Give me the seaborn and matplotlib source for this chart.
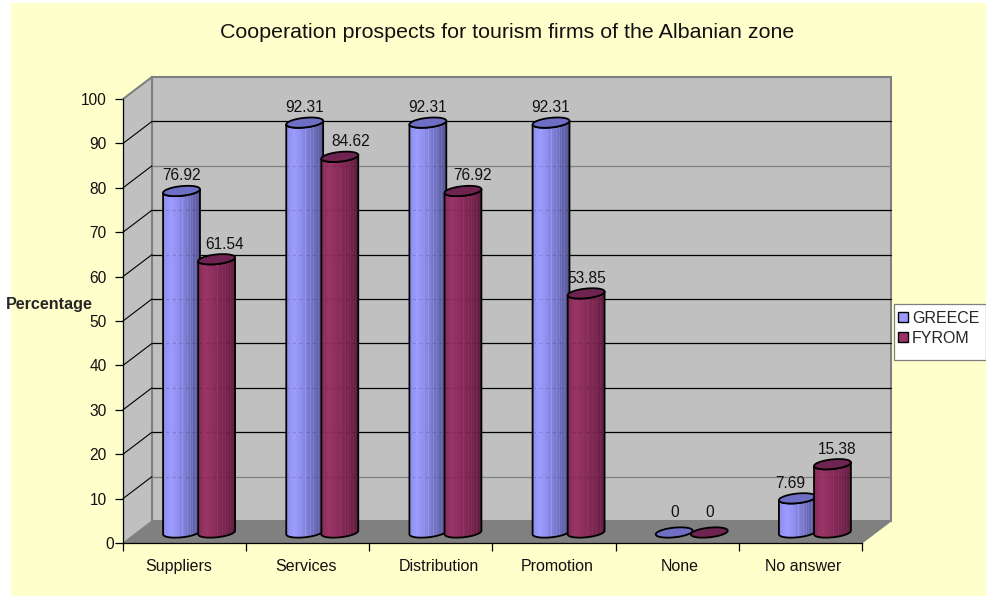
"""
Cooperation prospects chart, cylinder bars drawn on top of seaborn barplot
"""

import matplotlib
matplotlib.use('Agg')

import numpy as np
import pandas as pd
import matplotlib.pyplot as plt
import matplotlib.colors as mcolors
from matplotlib.patches import Patch, PathPatch, Polygon, Rectangle
from matplotlib.path import Path
from matplotlib.transforms import IdentityTransform, ScaledTranslation, offset_copy
import seaborn as sns

categories = ['Suppliers', 'Services', 'Distribution', 'Promotion', 'None', 'No answer']
greece = [76.92, 92.31, 92.31, 92.31, 0, 7.69]
fyrom = [61.54, 84.62, 76.92, 53.85, 0, 15.38]
series_names = ['GREECE', 'FYROM']
y_ticks = [0, 10, 20, 30, 40, 50, 60, 70, 80, 90, 100]

W, H = 986, 596
BG = '#FFFFCC'
WALL = '#C0C0C0'
FLOOR = '#808080'
COLORS = {'GREECE': '#9999FF', 'FYROM': '#993366'}
TOPS = {'GREECE': '#6E6EC4', 'FYROM': '#6F2350'}
STOPS = {'GREECE': ['#8C8CEA', '#9D9DFF', '#8F8FEC', '#7C7CCF', '#6666AC', '#585894'],
         'FYROM': ['#862C59', '#9B3568', '#8E2F5F', '#7F2A55', '#70254B', '#5F1F40']}
# the labels in the picture do not sit exactly under the category centres
label_shift_px = [-6, -2, 8, 3, 2, 3]
# value labels are pushed sideways to clear the neighbouring bar
value_shift_px = {'GREECE': [0, 0, 0, 0, 0, -7], 'FYROM': [8, 11, 10, 1, 0, 5]}


def px_axes(fig, left, top, right, bottom):
    return fig.add_axes([left / W, 1 - bottom / H, (right - left) / W, (bottom - top) / H])


def ellipse_xy(cx, cy, a, b, t, tilt=np.radians(6)):
    x = cx + a * np.cos(t) * np.cos(tilt) - b * np.sin(t) * np.sin(tilt)
    y = cy + a * np.cos(t) * np.sin(tilt) + b * np.sin(t) * np.cos(tilt)
    return np.column_stack([x, y])


sns.set_style('white')
plt.rcParams['font.family'] = ['Liberation Sans', 'DejaVu Sans']

df = pd.DataFrame({
    'category': categories * 2,
    'series': [series_names[0]] * 6 + [series_names[1]] * 6,
    'value': greece + fyrom,
})

fig = plt.figure(figsize=(W / 100, H / 100), dpi=100, facecolor='white')
fig.add_artist(Rectangle((11 / W, 0), (W - 11) / W, (H - 3) / H, transform=fig.transFigure,
                         facecolor=BG, edgecolor='none', zorder=-1))
ax = px_axes(fig, 123, 99, 862, 543)

sns.barplot(data=df, x='category', y='value', hue='series', palette=COLORS,
            width=0.57, legend=False, ax=ax, zorder=5)
ax.set_xlim(-0.5, 5.5)
ax.set_ylim(0, 100)
ax.set_autoscale_on(False)
ax.patch.set_visible(False)

# wall, side and floor of the box
back = offset_copy(ax.transData, fig, x=29, y=22, units='dots')
mid = offset_copy(ax.transData, fig, x=14.5, y=10.5, units='dots')
ident = IdentityTransform()


def front_pt(x, y):
    return ax.transData.transform((x, y))


def back_pt(x, y):
    return back.transform((x, y))


ax.add_patch(Rectangle((-0.5, 0), 6, 100, transform=back, facecolor=WALL, edgecolor=FLOOR,
                       linewidth=1.5, zorder=1, clip_on=False))
ax.add_patch(Polygon([front_pt(-0.5, 0), front_pt(-0.5, 100), back_pt(-0.5, 100), back_pt(-0.5, 0)],
                     transform=ident, facecolor=WALL, edgecolor='none', zorder=1.1, clip_on=False))
ax.plot(*zip(back_pt(-0.5, 0), back_pt(-0.5, 100)), transform=ident, color=FLOOR, lw=1.5,
        zorder=1.2, clip_on=False)
ax.plot(*zip(front_pt(-0.5, 100), back_pt(-0.5, 100)), transform=ident, color=FLOOR, lw=1.5,
        zorder=1.2, clip_on=False)
ax.add_patch(Polygon([front_pt(-0.5, 0), front_pt(5.5, 0), back_pt(5.5, 0), back_pt(-0.5, 0)],
                     transform=ident, facecolor=FLOOR, edgecolor=FLOOR, linewidth=0.8,
                     zorder=1.3, clip_on=False))

for v in y_ticks[1:-1]:
    color = FLOOR if v in (10, 80) else 'black'
    ax.plot([-0.5, 5.5], [v, v], transform=back, color=color, lw=0.9, zorder=1.4, clip_on=False)
    ax.plot(*zip(front_pt(-0.5, v), back_pt(-0.5, v)), transform=ident, color='black', lw=0.8,
            zorder=1.4, clip_on=False)

# turn every seaborn bar into a cylinder
for name, container, values in zip(series_names, ax.containers, [greece, fyrom]):
    cmap = mcolors.LinearSegmentedColormap.from_list(name, STOPS[name])
    shade = cmap(np.linspace(0, 1, 44))[np.newaxis, :, :3]
    shade[0, 22::3] = np.clip(shade[0, 22::3] * 1.12, 0, 1)
    for bar, value, shift in zip(container.patches, values, value_shift_px[name]):
        bar.set_visible(False)
        bar_x = bar.get_x() - 0.008
        bar_w = bar.get_width() + 0.016
        (x0, base), (x1, top) = mid.transform([(bar_x, 0), (bar_x + bar_w, value)])
        cx, a, b = (x0 + x1) / 2, (x1 - x0) / 2, 4.8
        lower = ellipse_xy(cx, base, a, b, np.linspace(np.pi, 2 * np.pi, 40))
        top_ring = ellipse_xy(cx, top, a, b, np.linspace(0, 2 * np.pi, 80))
        zo = 5 + 0.1 * (series_names.index(name) + 1)
        if value > 0:
            upper = ellipse_xy(cx, top, a, b, np.linspace(2 * np.pi, np.pi, 40))
            body = Path(np.vstack([lower, upper, lower[:1]]), closed=True)
            im = ax.imshow(shade, extent=[x0, x1, base - 8, top + 8], aspect='auto',
                           transform=ident, zorder=zo, interpolation='nearest')
            im.set_clip_path(body, transform=ident)
            # gridlines show faintly through the bars
            for v in y_ticks[1:-1]:
                line, = ax.plot([-0.5, 5.5], [v, v], transform=back, color='black', lw=0.8, alpha=0.14,
                                linestyle=(0, (3, 3)), zorder=zo + 0.005)
                line.set_clip_path(body, transform=ident)
            ax.add_patch(PathPatch(body, transform=ident, facecolor='none', edgecolor='black',
                                   linewidth=1.3, zorder=zo + 0.01, clip_on=False))
        ax.add_patch(Polygon(top_ring, transform=ident, facecolor=TOPS[name], edgecolor='black',
                             linewidth=1.3, zorder=zo + 0.02, clip_on=False))
        lift = 15 if value > 0 else 20
        ax.annotate(f'{value:g}', xy=(cx, top), xycoords=ident, xytext=(shift, lift), textcoords='offset pixels',
                    ha='center', va='center', fontsize=11.2, color='#111111', zorder=8)

# axes
sns.despine(ax=ax, top=True, right=True)
for side in ('left', 'bottom'):
    ax.spines[side].set_color('black')
    ax.spines[side].set_linewidth(0.9)
    ax.spines[side].set_zorder(6)
ax.set_yticks(y_ticks)
ax.tick_params(axis='y', which='major', left=True, length=5.8, width=0.9, color='black', pad=6,
               labelsize=11.2, labelcolor='#111111')
ax.yaxis.get_major_ticks()[0].set_pad(0.5)
ax.set_xticks(range(len(categories)))
ax.set_xticklabels(categories)
ax.set_xticks(np.arange(-0.5, 6), minor=True)
ax.tick_params(axis='x', which='major', bottom=False, pad=8, labelsize=11.5, labelcolor='#111111')
ax.tick_params(axis='x', which='minor', bottom=True, length=5.5, width=0.9, color='black')
for label, shift in zip(ax.get_xticklabels(), label_shift_px):
    label.set_transform(label.get_transform() + ScaledTranslation(shift / 100, 0, fig.dpi_scale_trans))
ax.set_xlabel('')
ax.set_ylabel('')

fig.text(507 / W, 1 - 32 / H, 'Cooperation prospects for tourism firms of the Albanian zone',
         ha='center', va='center', fontsize=15.4, color='#111111')
fig.text(6 / W, 1 - 305 / H, 'Percentage', ha='left', va='center', fontsize=11.6, fontweight='bold')

# legend box
fig.add_artist(Rectangle((894 / W, 1 - 360 / H), 92 / W, 56 / H, transform=fig.transFigure,
                         facecolor='white', edgecolor='#808080', linewidth=0.9))
handles = [Patch(facecolor=COLORS[n], edgecolor='black', linewidth=1.0, label=n) for n in series_names]
fig.legend(handles=handles, loc='upper left', bbox_to_anchor=(893.5 / W, 1 - 306 / H), frameon=False,
           fontsize=11.5, handlelength=0.58, handleheight=0.58, handletextpad=0.28, labelspacing=0.3,
           borderpad=0.3, borderaxespad=0)

plt.savefig('out.png', dpi=100)
plt.close()
